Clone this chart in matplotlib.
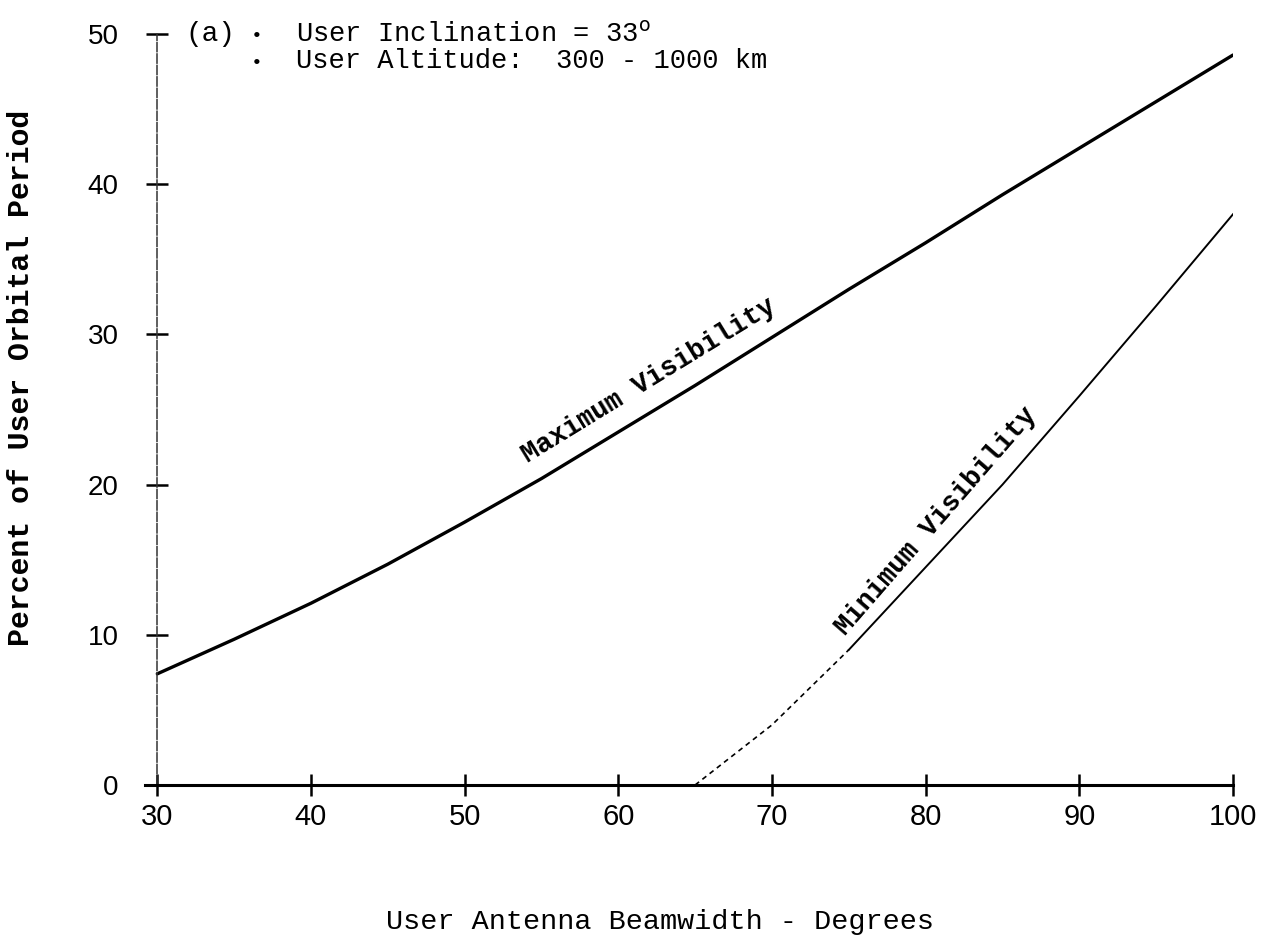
import matplotlib.pyplot as plt
import numpy as np

# beamwidth (deg) vs percent of orbital period
beamwidth_max = [30, 35, 40, 45, 50, 55, 60, 65, 70, 75, 80, 85, 90, 95, 100]
max_visibility = [7.4, 9.7, 12.1, 14.7, 17.5, 20.4, 23.5, 26.6, 29.8, 33.0, 36.1, 39.3, 42.4, 45.5, 48.6]

beamwidth_min = [65, 70, 75, 80, 85, 90, 95, 100]
min_visibility = [0.0, 4.0, 9.0, 14.5, 20.0, 25.9, 31.9, 38.0]

x_ticks = [30, 40, 50, 60, 70, 80, 90, 100]
y_ticks = [0, 10, 20, 30, 40, 50]

plt.rcParams['font.family'] = 'Liberation Mono'

fig = plt.figure(figsize=(12.61, 9.47), dpi=100)
ax = fig.add_axes([0.115, 0.1711, 0.8628, 0.793])

# maximum visibility - heavy solid line
ax.plot(beamwidth_max, max_visibility, color='black', lw=2.4, solid_capstyle='round')

# minimum visibility - faint broken near the start, then solid
ax.plot(beamwidth_min[:3], min_visibility[:3], color='black', lw=1.2, linestyle=(0, (3, 2.5)))
ax.plot(beamwidth_min[2:], min_visibility[2:], color='black', lw=1.4)

ax.set_xlim(29.2, 100)
ax.set_ylim(0, 50)

for side in ['top', 'right']:
    ax.spines[side].set_visible(False)
ax.spines['left'].set_position(('data', 30))
ax.spines['left'].set_linewidth(1.1)
ax.spines['left'].set_linestyle((0, (6, 1.5)))
ax.spines['left'].set_color('#333333')
ax.spines['bottom'].set_linewidth(2.2)

ax.set_xticks(x_ticks)
ax.set_yticks(y_ticks)
ax.tick_params(axis='both', direction='inout', length=16, width=1.8, color='black')
ax.tick_params(axis='x', pad=5, labelsize=21)
ax.tick_params(axis='y', pad=20, labelsize=20)
for lbl in ax.get_xticklabels() + ax.get_yticklabels():
    lbl.set_fontfamily('Liberation Sans')

# curve labels
ax.text(62.0, 26.9, 'Maximum Visibility', rotation=31.5, rotation_mode='anchor',
        ha='center', va='center', fontsize=19.5, fontweight='bold')
ax.text(80.7, 17.6, 'Minimum Visibility', rotation=49, rotation_mode='anchor',
        ha='center', va='center', fontsize=19.5, fontweight='bold')

# case notes
fig.text(185 / 1261, 1 - 41 / 947, '(a)', fontsize=20, va='baseline')
fig.text(257 / 1261, 1 - 41 / 947, '\u2022', fontsize=14, ha='center', va='baseline')
fig.text(257 / 1261, 1 - 68 / 947, '\u2022', fontsize=14, ha='center', va='baseline')
fig.text(296 / 1261, 1 - 41 / 947, r'User Inclination = 33$^{\mathrm{o}}$', fontsize=19.5, va='baseline')
fig.text(296 / 1261, 1 - 68 / 947, 'User Altitude:  300 - 1000 km', fontsize=19.5, va='baseline')

fig.text(660 / 1261, 1 - 922 / 947, 'User Antenna Beamwidth - Degrees', fontsize=20.5,
         ha='center', va='center')
fig.text(21 / 1261, 1 - 378 / 947, 'Percent of User Orbital Period', fontsize=21.5,
         rotation=90, ha='center', va='center', fontweight='bold')

fig.savefig('out.png', dpi=100)
